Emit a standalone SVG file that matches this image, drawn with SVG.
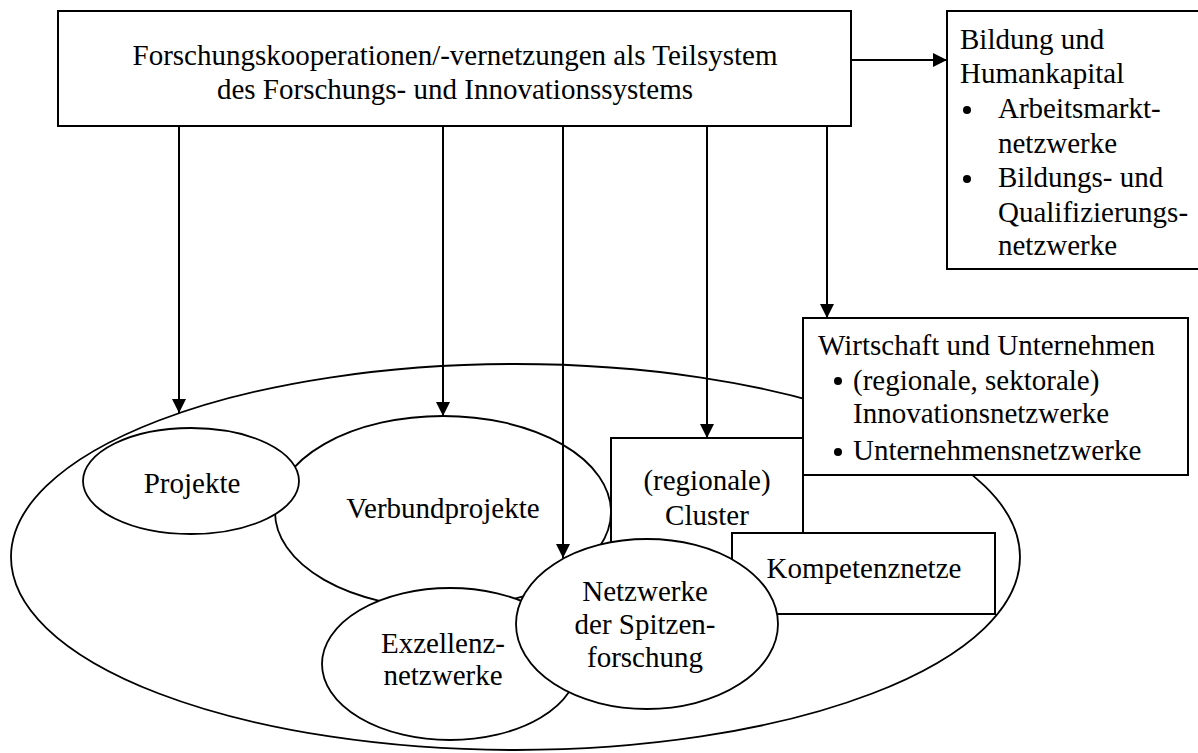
<svg xmlns="http://www.w3.org/2000/svg" width="1198" height="753" viewBox="0 0 1198 753">
<defs>
<style>
.shape{fill:#fff;stroke:#000;stroke-width:2}
.ell{fill:#fff;stroke:#000;stroke-width:1.8}
.t{font-family:"Liberation Serif","Times New Roman",serif;font-size:29px;fill:#000}
.c{text-anchor:middle}
.conn{fill:none;stroke:#000;stroke-width:2}
</style>
<marker id="arr" viewBox="0 0 14 14" refX="14" refY="7" markerWidth="14" markerHeight="14" markerUnits="userSpaceOnUse" orient="auto">
<path d="M0,0 L14,7 L0,14 Z" fill="#000"/>
</marker>
</defs>
<rect width="1198" height="753" fill="#fff"/>

<g id="outer-ellipse">
<ellipse class="ell" cx="515.5" cy="557" rx="504.5" ry="193"/>
</g>

<g id="verbundprojekte">
<ellipse class="ell" cx="443" cy="512" rx="168" ry="96"/>
<text class="t c" x="443" y="518">Verbundprojekte</text>
</g>

<g id="projekte">
<ellipse class="ell" cx="191" cy="481" rx="108" ry="53"/>
<text class="t c" x="192" y="493">Projekte</text>
</g>

<g id="exzellenznetzwerke">
<ellipse class="ell" cx="450" cy="664" rx="128" ry="76"/>
<text class="t c" x="443" y="653">Exzellenz-</text>
<text class="t c" x="443" y="685">netzwerke</text>
</g>

<g id="cluster">
<rect class="shape" x="611" y="438" width="192" height="150"/>
<text class="t c" x="707" y="490">(regionale)</text>
<text class="t c" x="707" y="525">Cluster</text>
</g>

<g id="kompetenznetze">
<rect class="shape" x="732" y="533" width="263" height="81"/>
<text class="t c" x="864" y="578">Kompetenznetze</text>
</g>

<g id="spitzenforschung">
<ellipse class="ell" cx="647" cy="624" rx="131" ry="85"/>
<text class="t c" x="645" y="601">Netzwerke</text>
<text class="t c" x="645" y="634">der Spitzen-</text>
<text class="t c" x="645" y="667">forschung</text>
</g>

<g id="wirtschaft">
<rect class="shape" x="803" y="318" width="385" height="157"/>
<text class="t" x="818" y="355">Wirtschaft und Unternehmen</text>
<circle cx="838" cy="381" r="4"/>
<text class="t" x="853" y="390">(regionale, sektorale)</text>
<text class="t" x="853" y="423">Innovationsnetzwerke</text>
<circle cx="838" cy="452" r="4"/>
<text class="t" x="853" y="460">Unternehmensnetzwerke</text>
</g>

<g id="forschung">
<rect class="shape" x="58" y="11" width="793" height="115"/>
<text class="t c" x="455" y="65">Forschungskooperationen/-vernetzungen als Teilsystem</text>
<text class="t c" x="455" y="99">des Forschungs- und Innovationssystems</text>
</g>

<g id="bildung">
<rect class="shape" x="947" y="11" width="260" height="258"/>
<text class="t" x="960" y="49">Bildung und</text>
<text class="t" x="960" y="83">Humankapital</text>
<circle cx="967" cy="110" r="4"/>
<text class="t" x="998" y="118">Arbeitsmarkt-</text>
<text class="t" x="998" y="153">netzwerke</text>
<circle cx="967" cy="179" r="4"/>
<text class="t" x="998" y="187">Bildungs- und</text>
<text class="t" x="998" y="222">Qualifizierungs-</text>
<text class="t" x="998" y="255">netzwerke</text>
</g>

<g id="connectors">
<line class="conn" x1="851" y1="60" x2="947" y2="60" marker-end="url(#arr)"/>
<line class="conn" x1="179" y1="126" x2="179" y2="413" marker-end="url(#arr)"/>
<line class="conn" x1="443" y1="126" x2="443" y2="416" marker-end="url(#arr)"/>
<line class="conn" x1="563" y1="126" x2="563" y2="558" marker-end="url(#arr)"/>
<line class="conn" x1="707" y1="126" x2="707" y2="438" marker-end="url(#arr)"/>
<line class="conn" x1="827" y1="126" x2="827" y2="318" marker-end="url(#arr)"/>
</g>
</svg>
